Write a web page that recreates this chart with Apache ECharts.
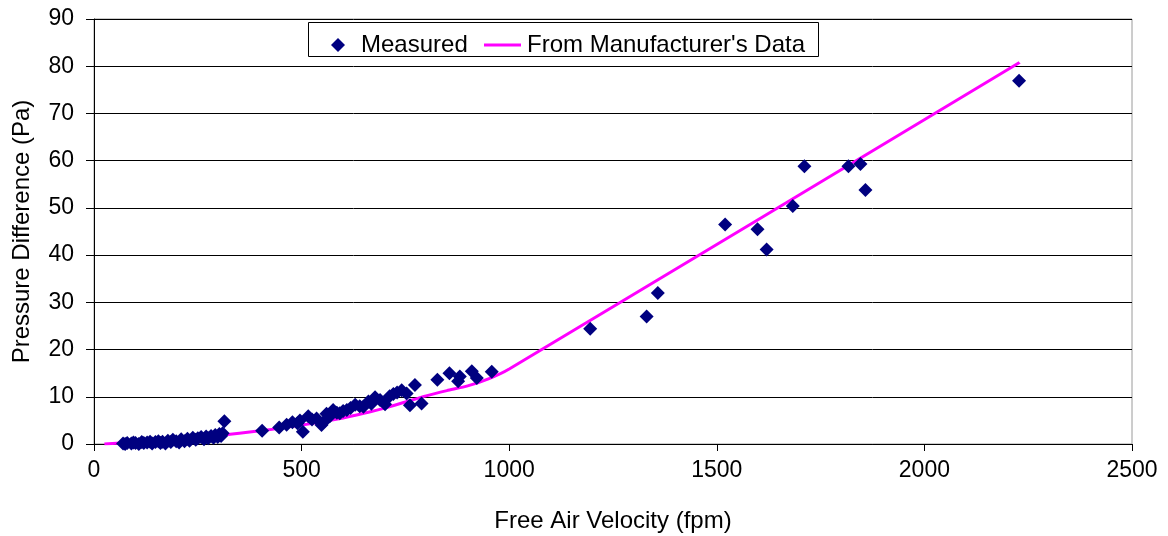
<!DOCTYPE html>
<html>
<head>
<meta charset="utf-8">
<script src="https://cdn.jsdelivr.net/npm/echarts@6/dist/echarts.min.js"></script>
<style>
html,body{margin:0;padding:0;background:#fff;}
#chart{width:1168px;height:536px;}
</style>
</head>
<body>
<div id="chart"></div>
<script>
// Measured points: [free air velocity (fpm), pressure difference (Pa)]
const measured = [
  [70,0.1],[75,0.0],[80,0.2],[85,-0.1],[90,0.1],[95,0.3],[100,0.2],[108,0.0],[115,0.4],[120,0.2],
  [128,0.3],[135,0.5],[140,0.1],[148,0.4],[155,0.6],[160,0.2],[165,0.5],[172,0.1],[178,0.7],[185,0.4],
  [190,0.9],[198,0.6],[205,0.3],[210,1.0],[218,0.6],[225,1.1],[230,0.7],[238,1.3],[245,0.9],[250,1.2],
  [258,1.5],[265,1.0],[270,1.6],[275,1.2],[282,1.7],[288,1.3],[292,1.9],[298,1.5],[302,2.1],[306,1.7],
  [310,2.3],[314,4.8],
  [405,2.8],[446,3.5],[464,4.1],[478,4.6],[490,4.4],[496,5.0],[503,2.6],[516,5.9],[525,5.2],[536,5.4],
  [548,4.0],[555,4.8],[560,6.4],[568,5.9],[576,7.2],[585,6.6],[592,6.5],[600,7.0],[609,7.2],[618,7.6],
  [629,8.3],[640,8.0],[649,7.9],[661,9.0],[668,8.5],[677,9.9],[689,9.3],[701,8.4],[712,10.1],[721,10.6],
  [730,10.9],[741,11.4],[753,10.7],[761,8.2],[773,12.5],[789,8.6],[827,13.6],[856,15.0],[877,13.3],[881,14.3],
  [910,15.4],[922,14.0],[958,15.3],
  [1195,24.4],[1331,27.0],[1358,32.0],[1520,46.5],[1598,45.5],[1620,41.2],[1683,50.4],[1711,58.8],
  [1817,58.8],[1846,59.3],[1858,53.8],[2228,76.9]
];
// Manufacturer's curve: [fpm, Pa]
const manufacturer = [
  [25,0.0],[100,0.4],[200,1.0],[300,1.8],[400,2.8],[500,4.0],[600,5.5],[650,6.5],[700,7.6],
  [750,8.9],[800,10.2],[850,11.3],[900,12.3],[950,13.8],[1000,15.9],[2229,80.8]
];
const xTicks = {min:0, max:2500, interval:500};
const yTicks = {min:0, max:90, interval:10};
const seriesNames = ['Measured', "From Manufacturer's Data"];
const xTitle = 'Free Air Velocity (fpm)';
const yTitle = 'Pressure Difference (Pa)';

const FONT = 'Liberation Sans, Arial, sans-serif';
const chart = echarts.init(document.getElementById('chart'), null, {renderer:'canvas'});
chart.setOption({
  animation:false,
  backgroundColor:'#fff',
  textStyle:{fontFamily:FONT, color:'#000'},
  grid:{left:94, right:36, top:19, bottom:92, show:true, borderColor:'#9a9a9a', borderWidth:1,
        containLabel:false, outerBoundsMode:'none'},
  graphic:[{type:'rect', shape:{x:308.5, y:22.5, width:510, height:34}, style:{fill:'#fff', stroke:'#000', lineWidth:1}, z:10}],
  legend:[
    {data:[seriesNames[0]], left:326, top:28, icon:'diamond', itemWidth:14, itemHeight:14, itemGap:10,
     textStyle:{fontFamily:FONT, fontSize:24, color:'#000', padding:[0,0,0,11]}, z:11},
    {data:[seriesNames[1]], left:479, top:28, icon:'rect', itemWidth:37, itemHeight:3,
     textStyle:{fontFamily:FONT, fontSize:24, color:'#000', padding:[0,0,0,1]}, z:11}
  ],
  xAxis:{
    type:'value', min:xTicks.min, max:xTicks.max, interval:xTicks.interval,
    name:xTitle, nameLocation:'middle', nameGap:65,
    nameTextStyle:{fontFamily:FONT, fontSize:24, color:'#000'},
    axisLine:{show:true, onZero:false, lineStyle:{color:'#000', width:1}},
    axisTick:{show:true, inside:false, length:7, lineStyle:{color:'#000'}},
    axisLabel:{fontFamily:FONT, fontSize:23, color:'#000', margin:15, formatter:function(v){return String(v);}},
    splitLine:{show:false}
  },
  yAxis:{
    type:'value', min:yTicks.min, max:yTicks.max, interval:yTicks.interval,
    name:yTitle, nameLocation:'middle', nameGap:60, nameRotate:90,
    nameTextStyle:{fontFamily:FONT, fontSize:24, color:'#000'},
    axisLine:{show:true, onZero:false, lineStyle:{color:'#000', width:1}},
    axisTick:{show:true, inside:false, length:8, lineStyle:{color:'#000'}},
    axisLabel:{fontFamily:FONT, fontSize:23, color:'#000', margin:20, formatter:function(v){return String(v);}},
    splitLine:{show:true, lineStyle:{color:'#000', width:1}}
  },
  series:[
    {name:seriesNames[1], type:'line', data:manufacturer, symbol:'none', smooth:0.2,
     lineStyle:{color:'#ff00ff', width:3}, itemStyle:{color:'#ff00ff'}, z:2},
    {name:seriesNames[0], type:'scatter', data:measured, symbol:'diamond', symbolSize:14,
     itemStyle:{color:'#000080', opacity:1}, z:3}
  ]
});
</script>
</body>
</html>
